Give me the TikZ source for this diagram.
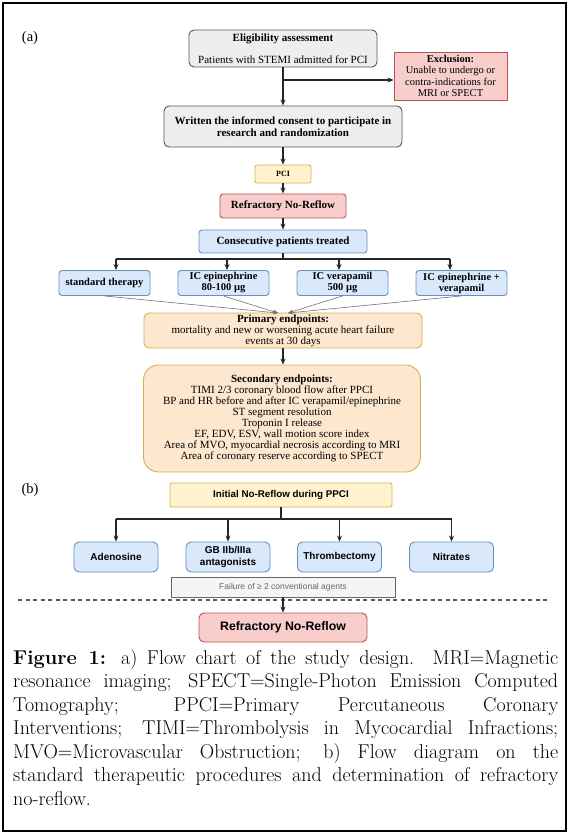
\documentclass[tikz,border=0pt]{standalone}
\usepackage{fontspec}
\newfontfamily\serifA{Liberation Serif}
\newfontfamily\sansB{Liberation Sans}
\usetikzlibrary{arrows.meta}
\definecolor{gfill}{HTML}{EEEEEE}
\definecolor{gline}{HTML}{555555}
\definecolor{rfill}{HTML}{F8CECC}
\definecolor{rline}{HTML}{B85450}
\definecolor{yfill}{HTML}{FFF2CC}
\definecolor{yline}{HTML}{D6B656}
\definecolor{bfill}{HTML}{DAE8FC}
\definecolor{bline}{HTML}{6C8EBF}
\definecolor{ofill}{HTML}{FDE7CF}
\definecolor{oline}{HTML}{D4B04E}
\definecolor{ffill}{HTML}{F5F5F5}
\definecolor{fline}{HTML}{666666}
\tikzset{
  boxa/.style={draw, line width=0.9pt, align=center, inner sep=0pt, anchor=center,
    font=\serifA\fontsize{11}{11}\selectfont},
  boxb/.style={draw, line width=0.9pt, align=center, inner sep=0pt, anchor=center,
    font=\sansB\bfseries\fontsize{10}{11.5}\selectfont},
  grey/.style={fill=gfill, draw=gline, rounded corners=5pt},
  redbox/.style={fill=rfill, draw=rline},
  yellowbox/.style={fill=yfill, draw=yline},
  bluebox/.style={fill=bfill, draw=bline, rounded corners=4pt},
  orangebox/.style={fill=ofill, draw=oline},
  arr/.style={-{Stealth[length=6pt,width=5pt]}, line width=1.1pt, draw=black!85},
  conn/.style={line width=1.1pt, draw=black!85},
  thinarr/.style={-{Stealth[length=5pt,width=4pt]}, line width=0.6pt, draw=black!55},
}
\begin{document}
\begin{tikzpicture}[x=1pt,y=-1pt]
\useasboundingbox (0,0) rectangle (569,834);
\fill[white] (0,0) rectangle (569,834);
\draw[line width=2.5pt] (3,3) rectangle (566,831);

% ---------- (a) ----------
\node[font=\serifA\fontsize{14.5}{16}\selectfont] (la) at (30,38) {(a)};

\node[boxa, grey, minimum width=188pt, minimum height=37pt] (elig) at (283,48.5)
  {\textbf{Eligibility assessment}\\[11pt]Patients with STEMI admitted for PCI};
\node[boxa, redbox, minimum width=113pt, minimum height=48pt, font=\serifA\fontsize{10.5}{11.2}\selectfont] (excl) at (450.5,76)
  {\textbf{Exclusion:}\\Unable to undergo or\\contra-indications for\\MRI or SPECT};
\node[boxa, grey, minimum width=238pt, minimum height=41pt, font=\serifA\bfseries\fontsize{11}{12}\selectfont] (cons) at (283,126.5)
  {Written the informed consent to participate in\\research and randomization};
\node[boxa, yellowbox, rounded corners=2pt, minimum width=56pt, minimum height=18pt, font=\serifA\bfseries\fontsize{8}{10}\selectfont] (pci) at (283,174) {PCI};
\node[boxa, redbox, rounded corners=3pt, minimum width=126pt, minimum height=24pt, font=\serifA\bfseries\fontsize{11}{12}\selectfont] (refa) at (283,206) {Refractory No-Reflow};
\node[boxa, bluebox, rounded corners=3pt, minimum width=168pt, minimum height=23pt, font=\serifA\bfseries\fontsize{11}{12}\selectfont] (cons2) at (283,241.5) {Consecutive patients treated};

\tikzset{tbox/.style={boxa, bluebox, rounded corners=3pt, minimum width=91pt, minimum height=25pt, font=\serifA\bfseries\fontsize{10.5}{11}\selectfont}}
\node[tbox] (t1) at (104.5,283) {standard therapy};
\node[tbox] (t2) at (223.5,283) {IC epinephrine\\80-100 µg};
\node[tbox] (t3) at (342.5,283) {IC verapamil\\500 µg};
\node[tbox] (t4) at (461.5,283) {IC epinephrine +\\verapamil};

\node[boxa, orangebox, rounded corners=5pt, minimum width=278pt, minimum height=35pt] (prim) at (283,330.5)
  {\textbf{Primary endpoints:}\\mortality and new or worsening acute heart failure\\events at 30 days};
\node[boxa, orangebox, rounded corners=15pt, minimum width=277pt, minimum height=107pt] (sec) at (282,418.5)
  {\textbf{Secondary endpoints:}\\TIMI 2/3 coronary blood flow after PPCI\\BP and HR before and after IC verapamil/epinephrine\\ST segment resolution\\Troponin I release\\EF, EDV, ESV, wall motion score index\\Area of MVO, myocardial necrosis according to MRI\\Area of coronary reserve according to SPECT};

\coordinate (j1) at (283,80);
\draw[arr] (elig.south) -- (cons.north);
\draw[arr] (j1) -- (j1 -| excl.west);
\draw[arr] (cons.south) -- (pci.north);
\draw[arr] (pci.south) -- (refa.north);
\draw[arr] (refa.south) -- (cons2.north);
\coordinate (ba) at (283,259);
\coordinate (ba1) at (116,259);
\coordinate (ba2) at (227,259);
\coordinate (ba3) at (339,259);
\coordinate (ba4) at (450,259);
\draw[conn] (cons2.south) -- (ba);
\draw[conn] (ba1) -- (ba4);
\draw[arr] (ba1) -- (ba1 |- t1.north);
\draw[arr] (ba2) -- (ba2 |- t2.north);
\draw[arr] (ba3) -- (ba3 |- t3.north);
\draw[arr] (ba4) -- (ba4 |- t4.north);
\coordinate (m1) at (278,313);
\coordinate (m2) at (288,313);
\draw[thinarr] (t1.south) -- (m1);
\draw[thinarr] (t2.south) -- (m1);
\draw[thinarr] (t3.south) -- (m2);
\draw[thinarr] (t4.south) -- (m2);
\draw[arr] (prim.south) -- (prim.south |- sec.north);

% ---------- (b) ----------
\node[font=\serifA\fontsize{14.5}{16}\selectfont] (lb) at (30,490) {(b)};
\node[boxb, yellowbox, rounded corners=2pt, minimum width=222pt, minimum height=24pt, font=\sansB\bfseries\fontsize{9.8}{11.5}\selectfont] (init) at (281,495) {Initial No-Reflow during PPCI};
\tikzset{cbox/.style={boxb, bluebox, rounded corners=5pt, minimum width=84pt, minimum height=30pt}}
\node[cbox] (c1) at (116,557) {Adenosine};
\node[cbox] (c2) at (228,557) {GB IIb/IIIa\\antagonists};
\node[cbox] (c3) at (339.5,557) {Thrombectomy};
\node[cbox] (c4) at (451.5,557) {Nitrates};
\node[boxb, fill=ffill, draw=fline, line width=0.8pt, minimum width=224pt, minimum height=20pt, font=\sansB\fontsize{8.5}{9}\selectfont, text=black!60] (fail) at (283,587) {Failure of ≥ 2 conventional agents};
\node[boxb, redbox, rounded corners=5pt, minimum width=168pt, minimum height=29pt, font=\sansB\bfseries\fontsize{12.3}{14}\selectfont] (refb) at (283,627.5) {Refractory No-Reflow};

\coordinate (bb) at (281,519);
\coordinate (bb1) at (116,519);
\coordinate (bb4) at (451.5,519);
\draw[conn] (init.south) -- (bb);
\draw[conn] (bb1) -- (bb4);
\draw[arr] (bb1) -- (c1.north);
\draw[arr] (c2.north |- bb) -- (c2.north);
\draw[arr] (c3.north |- bb) -- (c3.north);
\draw[arr] (bb4) -- (c4.north);
\coordinate (d1) at (18,600);
\coordinate (d2) at (550,600);
\draw[line width=1.4pt, draw=black!65, dash pattern=on 4pt off 3.5pt] (d1) -- (d2);
\draw[arr] (fail.south) -- (refb.north);

% ---------- caption ----------
\node[anchor=north west, inner sep=0pt, align=left, font=\fontsize{20}{23.5}\selectfont] (cap) at (13,649) {%
\makebox[545pt][s]{\textbf{Figure 1:} a) Flow chart of the study design. MRI=Magnetic}\\
\makebox[545pt][s]{resonance imaging; SPECT=Single-Photon Emission Computed}\\
\makebox[545pt][s]{Tomography; PPCI=Primary Percutaneous Coronary}\\
\makebox[545pt][s]{Interventions; TIMI=Thrombolysis in Mycocardial Infractions;}\\
\makebox[545pt][s]{MVO=Microvascular Obstruction; b) Flow diagram on the}\\
\makebox[545pt][s]{standard therapeutic procedures and determination of refractory}\\
\makebox[545pt][l]{no-reflow.}};
\end{tikzpicture}
\end{document}
